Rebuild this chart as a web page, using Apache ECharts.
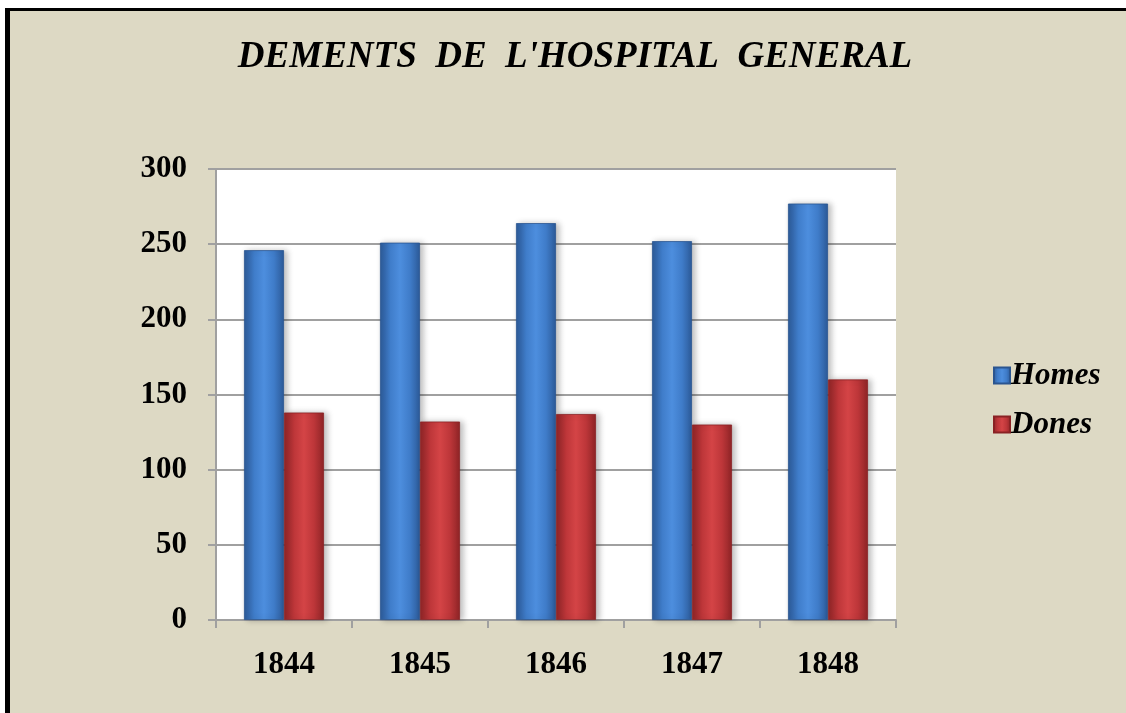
<!DOCTYPE html>
<html>
<head>
<meta charset="utf-8">
<script src="https://cdn.jsdelivr.net/npm/echarts@6/dist/echarts.min.js"></script>
<style>
  html, body { margin: 0; padding: 0; background: #fff; }
  #chart { width: 1126px; height: 713px; }
</style>
</head>
<body>
<div id="chart"></div>
<script>
// Yearly counts of patients at the Hospital General
const years = ['1844', '1845', '1846', '1847', '1848'];
const homes = [246, 251, 264, 252, 277];
const dones = [138, 132, 137, 130, 160];
const yTicks = { min: 0, max: 300, interval: 50 };

const serif = '"Liberation Serif", "DejaVu Serif", serif';

function barGradient(edge, mid, light) {
  return new echarts.graphic.LinearGradient(0, 0, 1, 0, [
    { offset: 0, color: edge },
    { offset: 0.25, color: mid },
    { offset: 0.5, color: light },
    { offset: 0.75, color: mid },
    { offset: 1, color: edge }
  ]);
}

const chart = echarts.init(document.getElementById('chart'));
chart.setOption({
  backgroundColor: '#ffffff',
  animation: false,
  graphic: [
    { type: 'rect', z: -10, silent: true, shape: { x: 5, y: 8, width: 1121, height: 705 }, style: { fill: '#000' } },
    { type: 'rect', z: -9, silent: true, shape: { x: 10, y: 11, width: 1116, height: 702 }, style: { fill: '#ddd9c4' } }
  ],
  title: {
    text: "DEMENTS  DE  L'HOSPITAL  GENERAL",
    left: 570, top: 34, textAlign: 'center',
    textStyle: { fontFamily: serif, fontSize: 37, fontWeight: 'bold', fontStyle: 'italic', color: '#000' }
  },
  legend: {
    orient: 'vertical',
    left: 988, top: 355,
    itemWidth: 16, itemHeight: 16, itemGap: 18,
    icon: 'rect',
    textStyle: { fontFamily: serif, fontSize: 31, fontWeight: 'bold', fontStyle: 'italic', color: '#000', padding: [0, 0, 0, -4] },
    data: ['Homes', 'Dones']
  },
  grid: { left: 216, top: 169, width: 680, height: 451, backgroundColor: '#fff', show: true, borderWidth: 0 },
  xAxis: {
    type: 'category',
    data: years,
    axisLine: { show: true, lineStyle: { color: '#a0a0a0', width: 2 } },
    axisTick: { show: true, length: 8, lineStyle: { color: '#a0a0a0', width: 2 } },
    axisLabel: { fontFamily: serif, fontSize: 31, fontWeight: 'bold', color: '#000', margin: 29 },
    splitLine: { show: false }
  },
  yAxis: {
    type: 'value',
    min: yTicks.min, max: yTicks.max, interval: yTicks.interval,
    axisLine: { show: true, lineStyle: { color: '#a0a0a0', width: 2 } },
    axisTick: { show: true, length: 8, lineStyle: { color: '#a0a0a0', width: 2 } },
    axisLabel: { fontFamily: serif, fontSize: 31, fontWeight: 'bold', color: '#000', margin: 29 },
    splitLine: { show: true, lineStyle: { color: '#a0a0a0', width: 2 } }
  },
  series: [
    {
      name: 'Homes', type: 'bar', data: homes,
      barWidth: 40, barGap: '0%',
      itemStyle: {
        color: barGradient('#2c5a98', '#3f7cc9', '#4d8ede'),
        borderColor: '#2a5590', borderWidth: 0.8,
        shadowColor: 'rgba(0,0,0,0.25)', shadowBlur: 6, shadowOffsetX: 3
      }
    },
    {
      name: 'Dones', type: 'bar', data: dones,
      barWidth: 40,
      itemStyle: {
        color: barGradient('#8e2426', '#bd3639', '#d44446'),
        borderColor: '#8a2224', borderWidth: 0.8,
        shadowColor: 'rgba(0,0,0,0.25)', shadowBlur: 6, shadowOffsetX: 3
      }
    }
  ]
});
</script>
</body>
</html>
